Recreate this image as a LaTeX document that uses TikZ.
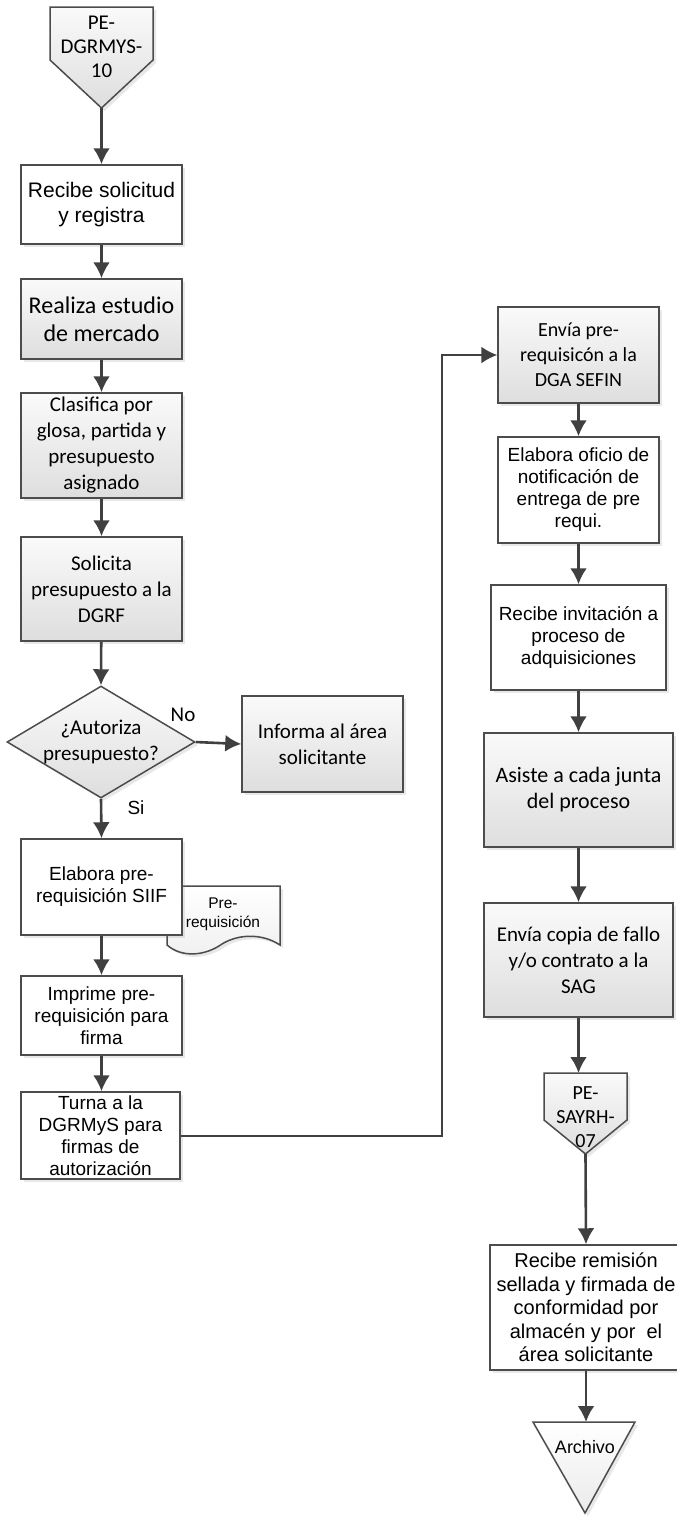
\documentclass[tikz,border=0pt]{standalone}
\usepackage{fontspec}
\setmainfont{Liberation Sans}
\newfontfamily\calibrifont{Carlito}
\usetikzlibrary{arrows.meta}
\usetikzlibrary{shapes.geometric}
\usetikzlibrary{shadows}

\begin{document}
\begin{tikzpicture}[x=0.5pt, y=-0.5pt,
	line/.style={>={Latex[length=8pt,width=8.5pt]}, draw=black!75, line width=1.3pt},
	proc/.style={draw=black!70, line width=0.75pt, inner sep=0pt, align=center,
		drop shadow={shadow xshift=1.5pt, shadow yshift=-1.5pt, opacity=0.18}},
	grayfill/.style={top color=black!2, bottom color=black!13},
	graybox/.style={proc, grayfill},
	whitebox/.style={proc, fill=white},
	cal/.style={font=\calibrifont\fontsize{10.5}{13}\selectfont},
	ari/.style={font=\fontsize{9.5}{11}\selectfont}]

	\useasboundingbox (0,0) rectangle (676,1528);

	\coordinate (pe1tip) at (101.5,108);
	\coordinate (jog) at (442,355);
	\coordinate (pe2top) at (578.5,1073);
	\coordinate (pe2tip) at (585.5,1154);
	\coordinate (archtop) at (585,1422);

	% conectores fuera de pagina
	\filldraw[proc, grayfill] (50,7) -- (153,7) -- (153,60) -- (pe1tip) -- (50,60) -- cycle;
	\node[cal, align=center, font=\calibrifont\fontsize{10.5}{12}\selectfont] (pe1) at (101.5,47) {PE-\\DGRMYS-\\10};

	\filldraw[proc, grayfill] (544,1073) -- (627,1073) -- (627,1120) -- (pe2tip) -- (544,1120) -- cycle;
	\node[cal, align=center, font=\calibrifont\fontsize{10}{12}\selectfont] (pe2) at (585.5,1117) {PE-\\SAYRH-\\07};

	% columna izquierda
	\node[whitebox, minimum width=80.5pt, minimum height=39.5pt, font=\fontsize{10.5}{12.5}\selectfont] (recibe) at (101.5,204.5) {Recibe solicitud\\y registra};
	\node[graybox, minimum width=80.5pt, minimum height=40pt, font=\calibrifont\fontsize{12}{14}\selectfont] (estudio) at (101.5,319) {Realiza estudio\\de mercado};
	\node[graybox, cal, minimum width=80.5pt, minimum height=52.5pt] (clasifica) at (101.5,445.5) {Clasifica por\\glosa, partida y\\presupuesto\\asignado};
	\node[graybox, cal, minimum width=80.5pt, minimum height=52pt] (solicita) at (101.5,589) {Solicita\\presupuesto a la\\DGRF};

	\node[diamond, draw=black!70, line width=0.75pt, inner sep=0pt, minimum width=94pt, minimum height=56pt, grayfill,
		drop shadow={shadow xshift=1.5pt, shadow yshift=-1.5pt, opacity=0.18}] (autoriza) at (101,742) {};
	\node[cal, align=center] (autorizatxt) at (autoriza.center) {¿Autoriza\\presupuesto?};
	\node[graybox, cal, minimum width=80.5pt, minimum height=48pt] (informa) at (322.5,744) {Informa al área\\solicitante};
	\node[cal] (lblno) at (183,715) {No};
	\node[font=\fontsize{9.5}{11}\selectfont] (lblsi) at (136,808) {Si};

	\filldraw[proc, top color=white, bottom color=black!6] (167,886) -- (280,886) -- (280,945)
		.. controls (262,933) and (238,934) .. (222,944)
		.. controls (205,956) and (182,958) .. (167,945) -- cycle;
	\node[align=center, font=\fontsize{7.75}{9.3}\selectfont] (prereq) at (223,914) {Pre-\\requisición};

	\node[whitebox, ari, minimum width=80.5pt, minimum height=48pt] (elabora) at (101.5,887) {Elabora pre-\\requisición SIIF};
	\node[whitebox, ari, minimum width=80.5pt, minimum height=39.5pt] (imprime) at (101.5,1015.5) {Imprime pre-\\requisición para\\firma};
	\node[whitebox, ari, minimum width=79.5pt, minimum height=43.5pt] (turna) at (100.5,1135.5) {Turna a la\\DGRMyS para\\firmas de\\autorización};

	% columna derecha
	\node[graybox, minimum width=80.5pt, minimum height=48pt, font=\calibrifont\fontsize{10}{12.5}\selectfont] (envia) at (578.5,355) {Envía pre-\\requisicón a la\\DGA SEFIN};
	\node[whitebox, ari, minimum width=80.5pt, minimum height=53pt] (oficio) at (578.5,490) {Elabora oficio de\\notificación de\\entrega de pre\\requi.};
	\node[whitebox, ari, minimum width=87.5pt, minimum height=52.5pt] (invitacion) at (578.5,637.5) {Recibe invitación a\\proceso de\\adquisiciones};
	\node[graybox, minimum width=94.5pt, minimum height=57pt, font=\calibrifont\fontsize{11}{13}\selectfont] (asiste) at (578.5,790) {Asiste a cada junta\\del proceso};
	\node[graybox, cal, minimum width=94.5pt, minimum height=57pt] (copia) at (578.5,960) {Envía copia de fallo\\y/o contrato a la\\SAG};
	\node[whitebox, minimum width=96pt, minimum height=62.5pt, font=\fontsize{10}{11.75}\selectfont] (remision) at (586,1307.5) {Recibe remisión\\sellada y firmada de\\conformidad por\\almacén y por \ el\\área solicitante};

	\filldraw[proc, top color=white, bottom color=black!8] (533,1422) -- (635,1422) -- (585,1513) -- cycle;
	\node[font=\fontsize{9}{11}\selectfont] (archivo) at (585,1447) {Archivo};

	% flechas
	\draw[->, line] (pe1tip) -- (recibe.north);
	\draw[->, line] (recibe) -- (estudio);
	\draw[->, line] (estudio) -- (clasifica);
	\draw[->, line] (clasifica) -- (solicita);
	\draw[->, line] (solicita) -- (autoriza.north);
	\draw[->, line] (autoriza.east) -- (informa.west);
	\draw[->, line] (autoriza.south) -- (elabora.north);
	\draw[->, line] (elabora) -- (imprime);
	\draw[->, line] (imprime.south) -- (imprime.south |- turna.north);
	\draw[->, line, line width=1pt] (turna.east) -| (jog) -- (envia.west);
	\draw[->, line] (envia) -- (oficio);
	\draw[->, line] (oficio) -- (invitacion);
	\draw[->, line] (invitacion) -- (asiste);
	\draw[->, line] (asiste) -- (copia);
	\draw[->, line] (copia.south) -- (pe2top);
	\draw[->, line] (pe2tip) -- (remision.north);
	\draw[->, line] (remision.south) -- (remision.south |- archtop);

\end{tikzpicture}
\end{document}
